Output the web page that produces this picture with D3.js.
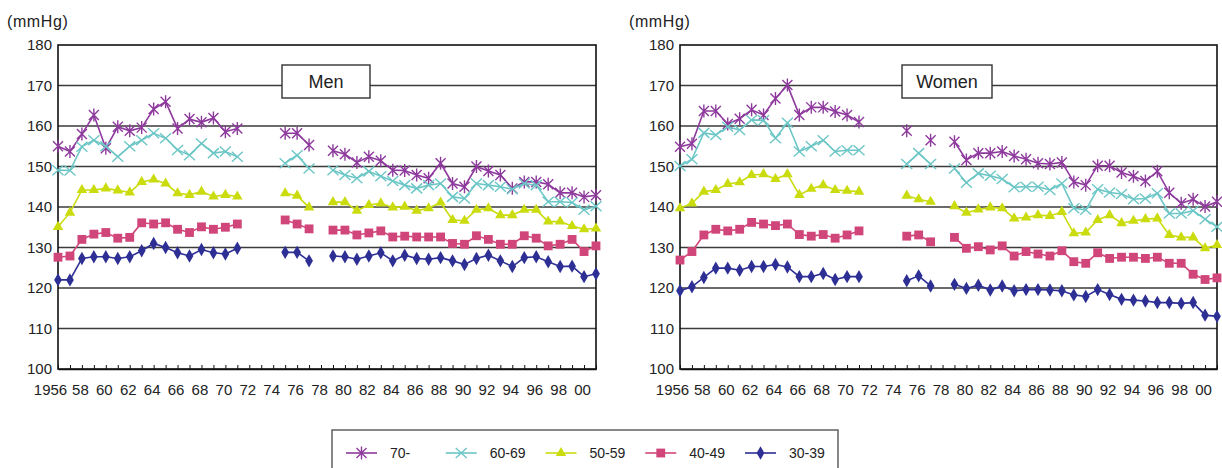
<!DOCTYPE html>
<html>
<head>
<meta charset="utf-8">
<script src="https://cdn.jsdelivr.net/npm/d3@7"></script>
<style>
  body { margin: 0; background: #fff; }
  svg text { font-family: "Liberation Sans", Arial, sans-serif; fill: #222; }
</style>
</head>
<body>
<div id="chart"></div>
<script>
// Blood pressure trends by age group (mmHg), 1956-2001, men and women
const YEARS = [1956, 1957, 1958, 1959, 1960, 1961, 1962, 1963, 1964, 1965, 1966, 1967, 1968, 1969, 1970, 1971,
  1972, 1973, 1974, 1975, 1976, 1977, 1978, 1979, 1980, 1981, 1982, 1983, 1984, 1985, 1986, 1987, 1988, 1989,
  1990, 1991, 1992, 1993, 1994, 1995, 1996, 1997, 1998, 1999, 2000, 2001];
const X_LABELS = { 1956: "1956", 1958: "58", 1960: "60", 1962: "62", 1964: "64", 1966: "66", 1968: "68", 1970: "70",
  1972: "72", 1974: "74", 1976: "76", 1978: "78", 1980: "80", 1982: "82", 1984: "84", 1986: "86", 1988: "88",
  1990: "90", 1992: "92", 1994: "94", 1996: "96", 1998: "98", 2000: "00" };
const Y_TICKS = [100, 110, 120, 130, 140, 150, 160, 170, 180];

const men70 = [155, 153.7, 158, 162.7, 154.5, 159.8, 158.8, 159.6, 164.2, 166, 159.4, 161.7, 160.9, 162, 158.6, 159.4,
  null, null, null, 158.2, 158.2, 155.3, null, 153.9, 153, 151, 152.4, 151.4, 149.1, 149, 147.9, 147.1, 150.8, 145.8,
  145, 150, 148.9, 147.9, 144.6, 146.2, 146.2, 145.6, 143.5, 143.5, 142.5, 142.9];
const men60 = [149.1, 149, 154.9, 156.5, 155, 152.4, 155, 156.5, 158.2, 157, 154.1, 152.8, 155.7, 153.3, 153.7, 152.4,
  null, null, null, 150.8, 152.8, 149.5, null, 149.1, 147.9, 147.1, 148.8, 147.6, 146.4, 145.4, 144.6, 145.4, 145.8, 142.5,
  142.1, 145.8, 145.4, 145, 144.4, 145.8, 145.4, 141.3, 141.3, 141.1, 139.3, 140.2];
const men50 = [135.1, 138.6, 144.2, 144.2, 144.6, 144.1, 143.6, 146.2, 146.8, 145.8, 143.4, 143, 143.8, 142.6, 143, 142.6,
  null, null, null, 143.4, 142.8, 139.9, null, 141.2, 141.2, 139.1, 140.5, 140.9, 139.9, 140.1, 139.1, 139.7, 141.1, 136.8,
  136.6, 139.3, 139.7, 138, 138, 139.3, 139.3, 136.4, 136.4, 135.3, 134.5, 134.7];
const men40 = [127.6, 127.9, 132, 133.3, 133.7, 132.3, 132.5, 136.1, 135.8, 136.1, 134.5, 133.7, 135.1, 134.5, 135, 135.8,
  null, null, null, 136.8, 135.8, 134.6, null, 134.3, 134.3, 133.1, 133.6, 134.1, 132.6, 132.8, 132.6, 132.6, 132.6, 131,
  130.8, 132.9, 132, 130.8, 130.8, 132.9, 132.3, 130.4, 130.8, 132, 129, 130.4];
const men30 = [122, 122, 127.3, 127.7, 127.7, 127.3, 127.7, 129.2, 131, 130, 128.7, 127.9, 129.5, 128.7, 128.4, 129.8,
  null, null, null, 128.8, 128.8, 126.7, null, 127.9, 127.7, 127.1, 127.9, 128.7, 126.7, 128.1, 127.3, 127.1, 127.5, 126.7,
  125.8, 127.3, 128.1, 126.7, 125.3, 127.5, 127.7, 126.5, 125.3, 125.4, 122.8, 123.5];

const women70 = [154.9, 155.6, 163.7, 163.7, 160.5, 161.8, 164, 162.7, 166.8, 170.1, 162.7, 164.6, 164.6, 163.6, 162.7, 161,
  null, null, null, 158.8, null, 156.5, null, 156.1, 151.6, 153.3, 153.3, 153.7, 152.6, 151.8, 150.8, 150.6, 151, 146.2,
  145.4, 150.2, 150.2, 148.5, 147.6, 146.4, 148.8, 143.5, 140.9, 141.9, 140.1, 141.3];
const women60 = [150.1, 151.8, 158.3, 157.8, 159.8, 159, 161.5, 161.4, 157, 160.8, 153.7, 155, 156.5, 153.7, 154, 154,
  null, null, null, 150.6, 153.3, 150.6, null, 149.5, 146, 148.3, 147.7, 146.9, 144.9, 145, 145, 144.2, 145.8, 139.7,
  139.3, 144.4, 143.6, 143.2, 141.9, 142.1, 143.4, 138.4, 138.4, 139.1, 137, 135.1];
const women50 = [139.7, 140.9, 143.8, 144.2, 145.7, 146.1, 147.9, 148.1, 146.9, 148.1, 143, 144.5, 145.4, 144.2, 144, 143.8,
  null, null, null, 142.8, 141.9, 141.3, null, 140.2, 138.6, 139.4, 139.9, 139.7, 137.2, 137.4, 138, 137.8, 138.8, 133.5,
  133.7, 136.8, 138, 136, 136.6, 137, 137.2, 133.1, 132.5, 132.5, 129.8, 130.6];
const women40 = [126.9, 129, 133.1, 134.5, 134.1, 134.5, 136.2, 135.8, 135.4, 135.8, 133.2, 132.8, 133.2, 132.3, 133.1, 134.1,
  null, null, null, 132.8, 133.1, 131.4, null, 132.5, 129.8, 130.2, 129.4, 130.4, 127.9, 129, 128.4, 127.9, 129.2, 126.5,
  126.1, 128.7, 127.3, 127.6, 127.6, 127.3, 127.6, 126.1, 126.1, 123.4, 122.1, 122.5];
const women30 = [119.3, 120.3, 122.6, 124.9, 124.9, 124.4, 125.3, 125.3, 125.8, 125.2, 122.8, 122.8, 123.6, 122.1, 122.8, 122.8,
  null, null, null, 121.8, 123, 120.5, null, 120.9, 119.9, 120.7, 119.5, 120.5, 119.3, 119.6, 119.6, 119.5, 119.3, 118.3,
  117.9, 119.6, 118.4, 117.2, 117, 116.8, 116.4, 116.4, 116.2, 116.4, 113.3, 113];

const GROUPS = [
  { label: "70-", color: "#8e3a9d", marker: "asterisk" },
  { label: "60-69", color: "#6cc6c6", marker: "cross" },
  { label: "50-59", color: "#cadc0e", marker: "triangle" },
  { label: "40-49", color: "#d1467a", marker: "square" },
  { label: "30-39", color: "#2d2f95", marker: "diamond" },
];

const PANELS = [
  { title: "Men", series: [men70, men60, men50, men40, men30], left: 58, right: 596, boxX: 282, boxW: 88 },
  { title: "Women", series: [women70, women60, women50, women40, women30], left: 680, right: 1217, boxX: 902, boxW: 90 },
];

const W = 1222, H = 468;
const TOP = 45, BOTTOM = 369;

const svg = d3.select("#chart").append("svg").attr("width", W).attr("height", H);

function drawMarker(g, type, color) {
  if (type === "asterisk") {
    g.append("path").attr("d", "M-5,-5L5,5M-5,5L5,-5M0,-6.5L0,6.5")
      .attr("stroke", color).attr("stroke-width", 1.4).attr("fill", "none");
  } else if (type === "cross") {
    g.append("path").attr("d", "M-5.5,-5L5.5,5M-5.5,5L5.5,-5")
      .attr("stroke", color).attr("stroke-width", 1.4).attr("fill", "none");
  } else {
    const sym = { triangle: d3.symbolTriangle, square: d3.symbolSquare, diamond: d3.symbolDiamond }[type];
    const size = { triangle: 48, square: 78, diamond: 52 }[type];
    g.append("path").attr("d", d3.symbol(sym, size)()).attr("fill", color);
  }
}

PANELS.forEach((panel) => {
  const x = d3.scaleLinear().domain([YEARS[0], YEARS[YEARS.length - 1]]).range([panel.left, panel.right]);
  const y = d3.scaleLinear().domain([100, 180]).range([BOTTOM, TOP]);

  const g = svg.append("g");

  // gridlines
  g.append("g").selectAll("line")
    .data(Y_TICKS.filter((v) => v > 100 && v < 180))
    .join("line")
    .attr("x1", panel.left).attr("x2", panel.right)
    .attr("y1", (d) => y(d)).attr("y2", (d) => y(d))
    .attr("stroke", "#3a3a3a").attr("stroke-width", 1.3);

  // frame
  g.append("rect")
    .attr("x", panel.left).attr("y", TOP)
    .attr("width", panel.right - panel.left).attr("height", BOTTOM - TOP)
    .attr("fill", "none").attr("stroke", "#111").attr("stroke-width", 1.6);

  // y axis
  const yAxis = g.append("g")
    .attr("transform", `translate(${panel.left},0)`)
    .call(d3.axisLeft(y).tickValues(Y_TICKS).tickSize(0).tickPadding(6));
  yAxis.select(".domain").remove();
  yAxis.selectAll("text").attr("font-size", 15).attr("fill", "#222");

  // x axis
  const xAxis = g.append("g")
    .attr("transform", `translate(0,${BOTTOM})`)
    .call(d3.axisBottom(x).tickValues(YEARS).tickSizeInner(-4).tickSizeOuter(0).tickPadding(15)
      .tickFormat((d) => X_LABELS[d] || ""));
  xAxis.select(".domain").attr("stroke", "#111").attr("stroke-width", 1.6);
  xAxis.selectAll("line").attr("stroke", "#111");
  xAxis.selectAll("text").attr("font-size", 15).attr("fill", "#222")
    .attr("dx", (d) => (d === YEARS[0] ? -8 : -2));

  // unit label
  g.append("text")
    .attr("x", panel.left - 51).attr("y", 27)
    .attr("font-size", 16)
    .attr("letter-spacing", 0.6)
    .text("(mmHg)");

  // title box
  g.append("rect")
    .attr("x", panel.boxX).attr("y", 65).attr("width", panel.boxW).attr("height", 33)
    .attr("fill", "#fff").attr("stroke", "#333").attr("stroke-width", 1.4);
  g.append("text")
    .attr("x", panel.boxX + panel.boxW / 2).attr("y", 88)
    .attr("text-anchor", "middle").attr("font-size", 18)
    .text(panel.title);

  // series
  const line = d3.line()
    .defined((d) => d.v != null)
    .x((d) => x(d.yr))
    .y((d) => y(d.v));

  panel.series.forEach((values, i) => {
    const grp = GROUPS[i];
    const pts = YEARS.map((yr, j) => ({ yr, v: values[j] }));
    g.append("path")
      .datum(pts)
      .attr("d", line)
      .attr("fill", "none")
      .attr("stroke", grp.color)
      .attr("stroke-width", 1.6);
    g.append("g").selectAll("g")
      .data(pts.filter((d) => d.v != null))
      .join("g")
      .attr("transform", (d) => `translate(${x(d.yr)},${y(d.v)})`)
      .each(function () { drawMarker(d3.select(this), grp.marker, grp.color); });
  });
});

// legend
const legend = svg.append("g");
legend.append("rect")
  .attr("x", 332).attr("y", 430).attr("width", 506).attr("height", 50)
  .attr("fill", "#fff").attr("stroke", "#555").attr("stroke-width", 1.4);
const legendX = d3.scalePoint().domain(GROUPS.map((d) => d.label)).range([346, 745]);
GROUPS.forEach((grp) => {
  const lx = legendX(grp.label);
  const item = legend.append("g").attr("transform", `translate(${lx},453)`);
  item.append("line").attr("x1", 0).attr("x2", 31).attr("stroke", grp.color).attr("stroke-width", 1.6);
  drawMarker(item.append("g").attr("transform", "translate(15.5,0)"), grp.marker, grp.color);
  item.append("text").attr("x", 44).attr("y", 5).attr("font-size", 14).text(grp.label);
});
</script>
</body>
</html>
